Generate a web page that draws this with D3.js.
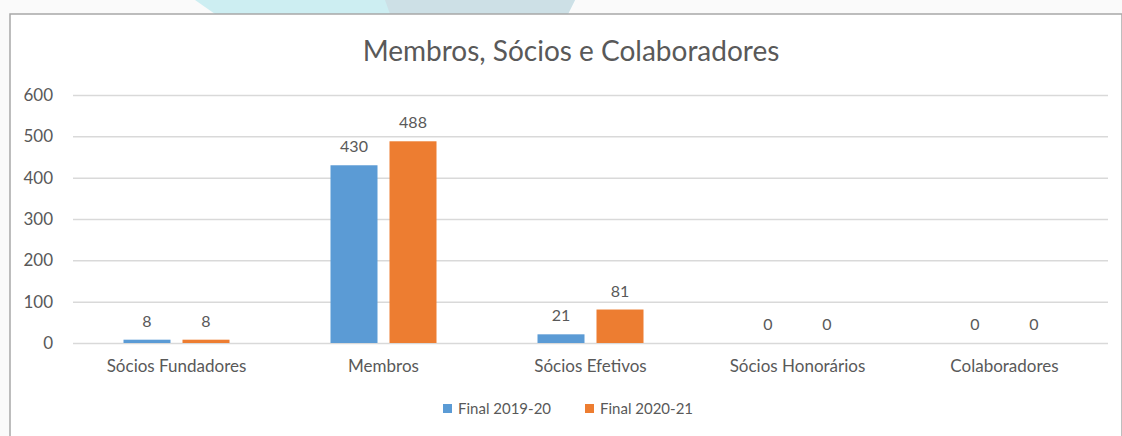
<!DOCTYPE html>
<html>
<head>
<meta charset="utf-8">
<script src="https://cdn.jsdelivr.net/npm/d3@7"></script>
<style>
  html, body { margin: 0; padding: 0; background: #fafafa; }
  svg { display: block; }
  text { font-family: Lato, "Open Sans", sans-serif; fill: #595959; }
</style>
</head>
<body>
<div id="chart"></div>
<script>
// chart values
const categories = ['Sócios Fundadores', 'Membros', 'Sócios Efetivos', 'Sócios Honorários', 'Colaboradores'];
const seriesNames = ['Final 2019-20', 'Final 2020-21'];
const values2019 = [8, 430, 21, 0, 0];
const values2020 = [8, 488, 81, 0, 0];
const yTicks = [0, 100, 200, 300, 400, 500, 600];
const chartTitle = 'Membros, Sócios e Colaboradores';

const W = 1122, H = 436;
const colors = ['#5b9bd5', '#ed7d31'];
const margin = { top: 95, right: 14, bottom: 93, left: 73 };
const width = W - margin.left - margin.right;
const height = H - margin.top - margin.bottom;
const groupW = 106;

const svg = d3.select('#chart')
    .append('svg')
    .attr('width', W)
    .attr('height', H);

// faint decoration peeking above the frame
svg.append('path')
    .attr('d', 'M195,0 L575,0 L568,14 L215,14 Z')
    .attr('fill', '#cdeef2');
svg.append('path')
    .attr('d', 'M385,0 L575,0 L568,14 L390,14 Z')
    .attr('fill', '#cde0e6');

// chart frame
svg.append('rect')
    .attr('x', 10)
    .attr('y', 14)
    .attr('width', W - 10)
    .attr('height', H - 14 + 2)
    .attr('fill', '#ffffff')
    .attr('stroke', '#a8a8a8')
    .attr('stroke-width', 1.5);

svg.append('text')
    .attr('x', 571)
    .attr('y', 61)
    .attr('text-anchor', 'middle')
    .style('font-size', '28px')
    .text(chartTitle);

const g = svg.append('g')
    .attr('transform', `translate(${margin.left},${margin.top})`);

const x = d3.scaleBand()
    .domain(categories)
    .range([0, width])
    .paddingInner(0)
    .paddingOuter(0);

const xInner = d3.scaleBand()
    .domain(seriesNames)
    .range([0, groupW])
    .paddingInner(12 / 59);

const y = d3.scaleLinear()
    .domain([0, 600])
    .range([height, 0]);

// gridlines
g.append('g')
    .attr('class', 'grid')
    .call(d3.axisLeft(y)
        .tickValues(yTicks)
        .tickSize(-width)
        .tickFormat('')
    )
    .call(s => s.select('.domain').remove())
    .call(s => s.selectAll('line').attr('stroke', '#d9d9d9').attr('stroke-width', 1.5));

// y labels
g.append('g')
    .call(d3.axisLeft(y).tickValues(yTicks).tickSize(0).tickPadding(20))
    .call(s => s.select('.domain').remove())
    .call(s => s.selectAll('text')
        .attr('fill', '#595959')
        .style('font-size', '17px')
        .style('font-family', 'Lato, "Open Sans", sans-serif'));

// x labels
g.append('g')
    .attr('transform', `translate(0,${height})`)
    .call(d3.axisBottom(x).tickSize(0).tickPadding(17))
    .call(s => s.select('.domain').remove())
    .call(s => s.selectAll('text')
        .attr('fill', '#595959')
        .style('font-size', '17px')
        .style('font-family', 'Lato, "Open Sans", sans-serif'));

const rows = categories.map((c, i) => ({
    cat: c,
    vals: [
        { s: seriesNames[0], v: values2019[i], c: colors[0] },
        { s: seriesNames[1], v: values2020[i], c: colors[1] }
    ]
}));

const groups = g.selectAll('.grp')
    .data(rows)
    .enter()
    .append('g')
    .attr('class', 'grp')
    .attr('transform', d => `translate(${x(d.cat) + (x.bandwidth() - groupW) / 2},0)`);

groups.selectAll('rect')
    .data(d => d.vals)
    .enter()
    .append('rect')
    .attr('x', d => xInner(d.s))
    .attr('width', xInner.bandwidth())
    .attr('y', d => y(d.v))
    .attr('height', d => y(0) - y(d.v))
    .attr('fill', d => d.c);

groups.selectAll('.lbl')
    .data(d => d.vals)
    .enter()
    .append('text')
    .attr('class', 'lbl')
    .attr('x', d => xInner(d.s) + xInner.bandwidth() / 2)
    .attr('y', d => y(d.v) - 13)
    .attr('text-anchor', 'middle')
    .style('font-size', '16px')
    .text(d => d.v);

// legend
const legend = svg.append('g')
    .attr('transform', 'translate(443,404)');

seriesNames.forEach((name, i) => {
    const item = legend.append('g')
        .attr('transform', `translate(${i * 142},0)`);
    item.append('rect')
        .attr('width', 9)
        .attr('height', 9)
        .attr('fill', colors[i]);
    item.append('text')
        .attr('x', 15)
        .attr('y', 10)
        .style('font-size', '15px')
        .text(name);
});
</script>
</body>
</html>
